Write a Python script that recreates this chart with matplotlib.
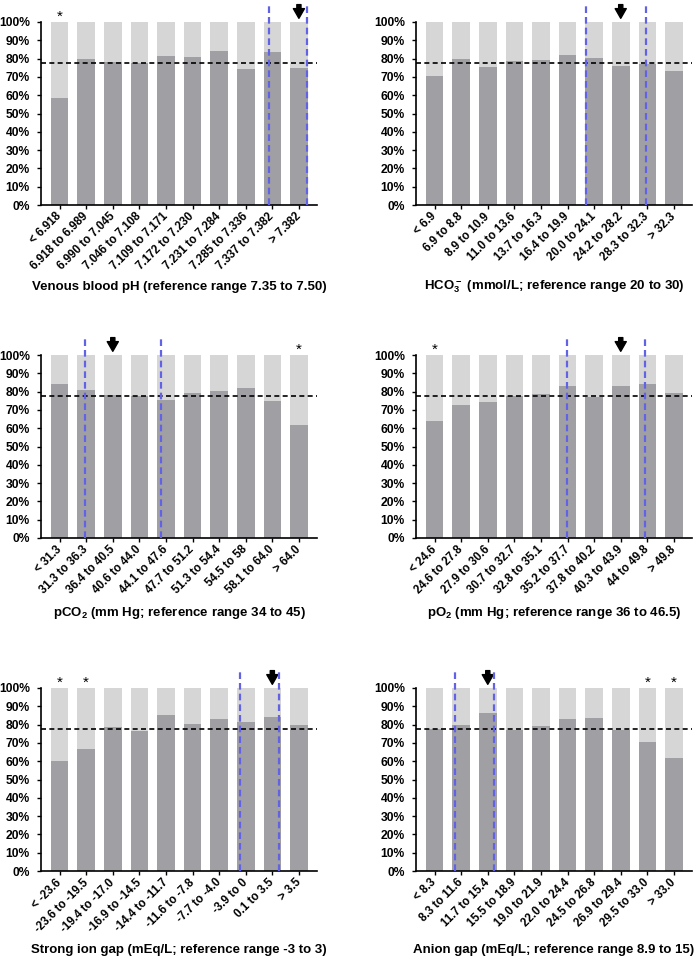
import matplotlib
matplotlib.use("Agg")
import matplotlib.pyplot as plt
from matplotlib.ticker import FuncFormatter

plt.rcParams['font.family'] = ['Liberation Sans', 'DejaVu Sans']
plt.rcParams['font.weight'] = 'bold'
plt.rcParams['mathtext.fontset'] = 'custom'
plt.rcParams['mathtext.rm'] = 'Liberation Sans:bold'
plt.rcParams['mathtext.bf'] = 'Liberation Sans:bold'
plt.rcParams['mathtext.default'] = 'bf'

# overall proportion (dashed line), percent
overall = 77.5

ph_labels = ['< 6.918', '6.918 to 6.989', '6.990 to 7.045', '7.046 to 7.108', '7.109 to 7.171',
             '7.172 to 7.230', '7.231 to 7.284', '7.285 to 7.336', '7.337 to 7.382', '> 7.382']
ph_vals = [58.3, 79.6, 78.3, 77.8, 81.2, 80.9, 84.2, 74.5, 83.4, 74.9]
ph_ref = [7.88, 9.31]
ph_arrow = 9
ph_stars = [0]

hco3_labels = ['< 6.9', '6.9 to 8.8', '8.9 to 10.9', '11.0 to 13.6', '13.7 to 16.3',
               '16.4 to 19.9', '20.0 to 24.1', '24.2 to 28.2', '28.3 to 32.3', '> 32.3']
hco3_vals = [70.7, 79.6, 75.6, 78.5, 79.4, 82.1, 80.3, 76.1, 77.2, 73.2]
hco3_ref = [5.68, 7.95]
hco3_arrow = 7
hco3_stars = []

pco2_labels = ['< 31.3', '31.3 to 36.3', '36.4 to 40.5', '40.6 to 44.0', '44.1 to 47.6',
               '47.7 to 51.2', '51.3 to 54.4', '54.5 to 58', '58.1 to 64.0', '> 64.0']
pco2_vals = [84.0, 81.1, 78.2, 77.6, 75.3, 79.5, 80.4, 82.2, 74.9, 62.0]
pco2_ref = [0.94, 3.82]
pco2_arrow = 2
pco2_stars = [9]

po2_labels = ['< 24.6', '24.6 to 27.8', '27.9 to 30.6', '30.7 to 32.7', '32.8 to 35.1',
              '35.2 to 37.7', '37.8 to 40.2', '40.3 to 43.9', '44 to 49.8', '> 49.8']
po2_vals = [64.0, 72.7, 74.2, 77.6, 78.5, 83.1, 77.3, 83.1, 84.2, 79.5]
po2_ref = [4.98, 7.91]
po2_arrow = 7
po2_stars = [0]

sig_labels = ['< -23.6', '-23.6 to -19.5', '-19.4 to -17.0', '-16.9 to -14.5', '-14.4 to -11.7',
              '-11.6 to -7.8', '-7.7 to -4.0', '-3.9 to 0', '0.1 to 3.5', '> 3.5']
sig_vals = [60.2, 66.7, 78.6, 76.6, 85.4, 80.3, 83.2, 81.2, 84.3, 79.9]
sig_ref = [6.78, 8.26]
sig_arrow = 8
sig_stars = [0, 1]

ag_labels = ['< 8.3', '8.3 to 11.6', '11.7 to 15.4', '15.5 to 18.9', '19.0 to 21.9',
             '22.0 to 24.4', '24.5 to 26.8', '26.9 to 29.4', '29.5 to 33.0', '> 33.0']
ag_vals = [77.6, 79.9, 86.1, 77.1, 79.3, 83.2, 83.7, 77.1, 70.7, 61.8]
ag_ref = [0.78, 2.25]
ag_arrow = 2
ag_stars = [8, 9]

DARK = '#a0a0a4'
LIGHT = '#d6d6d6'
BLUE = '#6262e6'

W, H = 698, 959
fig = plt.figure(figsize=(W / 100, H / 100), dpi=100)


def panel(left, top, labels, vals, refs, arrow, stars, xlabel, label_off):
    ax = fig.add_axes([left / W, 1 - (top + 183) / H, 276 / W, 183 / H])
    x = list(range(len(labels)))
    ax.bar(x, [100] * len(x), width=0.66, color=LIGHT, zorder=1)
    ax.bar(x, vals, width=0.66, color=DARK, zorder=2)
    ax.axhline(overall, color='black', ls=(0, (3, 2)), lw=1.2, zorder=3)
    for r in refs:
        ax.plot([r, r], [0, 109.5], color=BLUE, ls=(0, (3, 1.8)), lw=1.6,
                clip_on=False, zorder=4)
    # arrow marks the reference bin
    ax.annotate('', xy=(arrow, 102), xytext=(arrow, 109.5),
                arrowprops=dict(arrowstyle='simple,head_width=0.8,head_length=0.7,tail_width=0.3',
                                mutation_scale=10, color='black', shrinkA=0, shrinkB=0),
                annotation_clip=False)
    for s in stars:
        ax.text(s, 100.8, '*', ha='center', va='baseline', fontsize=11, fontweight='normal')
    ax.set_xlim(-0.7, 9.68)
    ax.set_ylim(0, 100)
    ax.set_yticks(range(0, 101, 10))
    ax.yaxis.set_major_formatter(FuncFormatter(lambda v, p: '%d%%' % v))
    ax.set_xticks(x)
    ax.set_xticklabels(labels, rotation=45, ha='right', va='center',
                       rotation_mode='anchor', fontsize=8.3)
    ax.tick_params(axis='y', labelsize=8.7, length=3, width=1, pad=5)
    ax.tick_params(axis='x', length=3, width=1, pad=4)
    for sp in ['top', 'right']:
        ax.spines[sp].set_visible(False)
    for sp in ['left', 'bottom']:
        ax.spines[sp].set_linewidth(1.2)
    ax.set_xlabel(xlabel, fontsize=9.5, fontweight='bold', va='center')
    ax.xaxis.set_label_coords(0.5, -label_off / 183)
    return ax


panel(41, 22, ph_labels, ph_vals, ph_ref, ph_arrow, ph_stars,
      'Venous blood pH (reference range 7.35 to 7.50)', 82)
panel(416, 22, hco3_labels, hco3_vals, hco3_ref, hco3_arrow, hco3_stars,
      r'HCO$_3^-$ (mmol/L; reference range 20 to 30)', 82)
panel(41, 355, pco2_labels, pco2_vals, pco2_ref, pco2_arrow, pco2_stars,
      r'pCO$_2$ (mm Hg; reference range 34 to 45)', 75)
panel(416, 355, po2_labels, po2_vals, po2_ref, po2_arrow, po2_stars,
      r'pO$_2$ (mm Hg; reference range 36 to 46.5)', 75)
panel(41, 688, sig_labels, sig_vals, sig_ref, sig_arrow, sig_stars,
      'Strong ion gap (mEq/L; reference range -3 to 3)', 79)
panel(416, 688, ag_labels, ag_vals, ag_ref, ag_arrow, ag_stars,
      'Anion gap (mEq/L; reference range 8.9 to 15)', 79)

fig.savefig('out.png', dpi=100)
